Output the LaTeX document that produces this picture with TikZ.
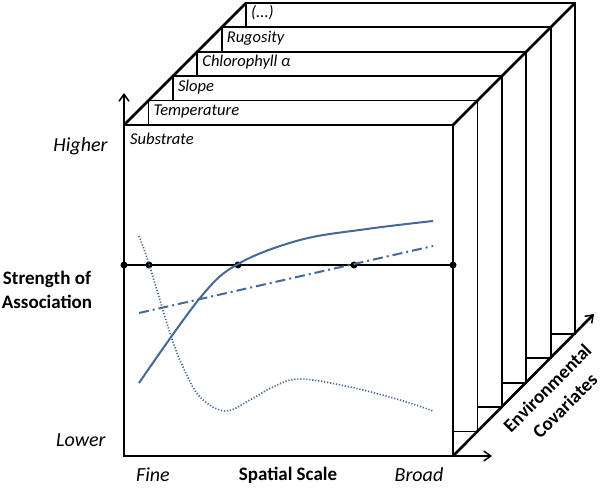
\documentclass[tikz,border=0pt]{standalone}
\usepackage{fontspec}
\setmainfont{Carlito}
\usetikzlibrary{arrows.meta}
\definecolor{curveblue}{RGB}{70,104,150}
\begin{document}
\begin{tikzpicture}[x=1pt,y=1pt,
  panel/.style={draw=black,line width=1.8pt,fill=white},
  plab/.style={anchor=base west,inner sep=0pt,font=\fontsize{16.5}{19}\selectfont\itshape},
  axlab/.style={font=\fontsize{20}{24}\selectfont\itshape},
  axtitle/.style={font=\fontsize{19}{24}\selectfont\bfseries,align=center},
  ectitle/.style={font=\fontsize{19}{25}\selectfont\bfseries,align=center,inner sep=1pt},
  diag/.style={line width=2.6pt},
  axisarrow/.style={line width=1.5pt,-{Straight Barb[length=7pt,width=10pt,line width=1.5pt]}},
  dotnode/.style={circle,fill=black,inner sep=0pt,minimum size=7pt},
  crv/.style={curveblue,line width=2pt}
]
\useasboundingbox (0,0) rectangle (604,494);
\pgfmathsetmacro\off{24.4}
% stacked panels, back to front
\foreach \k in {5,4,3,2,1,0}{
  \draw[panel] ({124+\k*\off},{38+\k*\off}) rectangle ({453+\k*\off},{369+\k*\off});
}
% panel labels
\node[plab] (l0) at (130,349) {Substrate};
\node[plab] (l1) at ({129+1*\off},{354+1*\off}) {Temperature};
\node[plab] (l2) at ({129+2*\off},{354+2*\off}) {Slope};
\node[plab] (l3) at ({129+3*\off},{354+3*\off}) {Chlorophyll α};
\node[plab] (l4) at ({129+4*\off},{354+4*\off}) {Rugosity};
\node[plab] (l5) at ({129+5*\off},{354+5*\off}) {(...)};
% corner coordinates
\coordinate (O) at (124,38);
\coordinate (ytip) at (124,401);
\coordinate (xtip) at (492,38);
\coordinate (FR) at (453,38);
\coordinate (ztip) at (594,180);
\coordinate (TL) at (124,369);
\coordinate (TL5) at ({124+5*\off},{369+5*\off});
\coordinate (TR) at (453,369);
\coordinate (TR5) at ({453+5*\off},{369+5*\off});
% diagonals
\draw[diag] (TL) -- (TL5);
\draw[diag] (TR) -- (TR5);
\draw[diag,-{Straight Barb[length=7pt,width=10pt,line width=1.5pt]}] (FR) -- (ztip);
% axes
\draw[axisarrow] (O) -- (ytip);
\draw[axisarrow] (O) -- (xtip);
% reference line with dots
\node[dotnode] (p1) at (124,229) {};
\node[dotnode] (p2) at (149,229) {};
\node[dotnode] (p3) at (238,229) {};
\node[dotnode] (p4) at (354,229) {};
\node[dotnode] (p5) at (453,229) {};
\draw[line width=1.5pt] (p1.center) -- (p5.center);
% curves
\draw[crv] plot[smooth,tension=0.6] coordinates {(139,111) (200,196) (238,230) (300,254) (367,265) (433,273)};
\draw[crv,dash pattern=on 10pt off 4pt on 2pt off 4pt] (139,181) -- (433,248);
\draw[curveblue,line width=1.7pt,dash pattern=on 1.2pt off 1.8pt] plot[smooth,tension=0.6] coordinates {(139,258) (149,230) (170,161) (183,127) (200,97) (225,83) (250,94) (273,107) (300,115) (350,107) (400,94) (433,83)};
% axis labels
\node[axlab,anchor=east] (hi) at (111,348) {Higher};
\node[axlab,anchor=east] (lo) at (109,54) {Lower};
\node[axtitle] (sa) at (47,204) {Strength of\\Association};
\node[axlab] (fine) at (153,19) {Fine};
\node[axtitle] (ss) at (288,19) {Spatial Scale};
\node[axlab] (broad) at (419,19) {Broad};
\node[ectitle,rotate=45] (ec) at (556,97) {Environmental\\Covariates};
\end{tikzpicture}
\end{document}
